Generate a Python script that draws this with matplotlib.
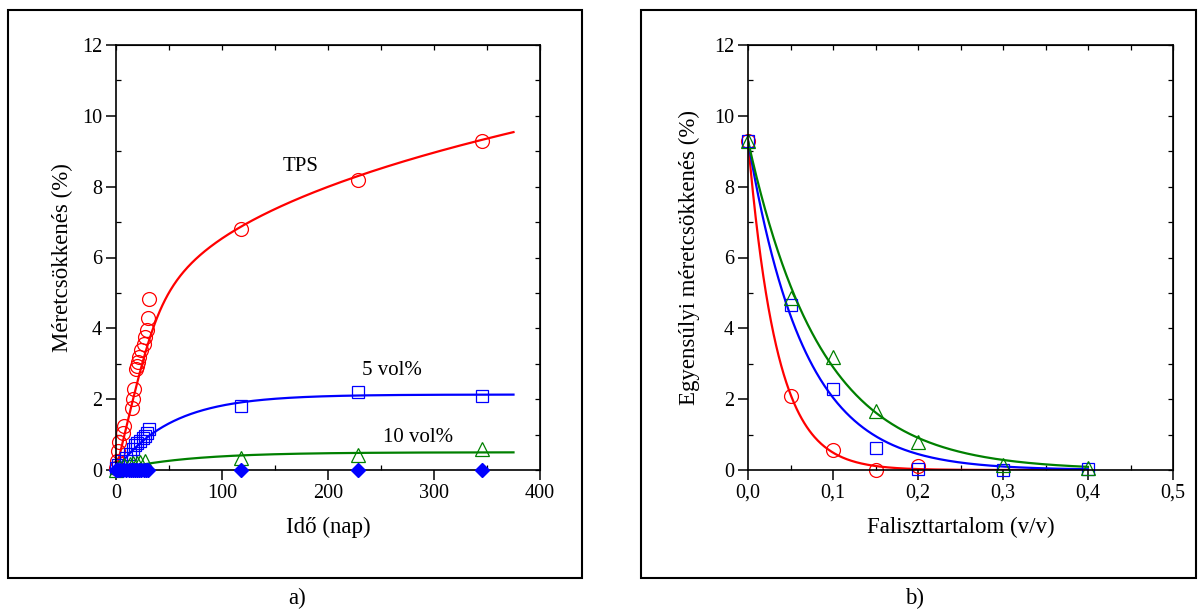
import matplotlib.pyplot as plt
import numpy as np
from matplotlib.patches import Rectangle
from matplotlib.ticker import MultipleLocator

plt.rcParams['font.family'] = ['Liberation Serif', 'DejaVu Serif']

# --- a) dimensional shrinkage vs time ---
tps_x = [0, 1, 2, 3, 7, 8, 15, 16, 17, 19, 20, 21, 22, 24, 26, 27, 29, 30, 31, 118, 228, 345]
tps_y = [0.05, 0.25, 0.55, 0.8, 1.05, 1.25, 1.75, 2.0, 2.3, 2.85, 2.95, 3.05, 3.2, 3.4,
         3.55, 3.75, 3.95, 4.3, 4.83, 6.8, 8.2, 9.3]
v5_x = [0, 2, 5, 9, 13, 16, 18, 20, 23, 25, 27, 29, 31, 118, 228, 345]
v5_y = [0.05, 0.15, 0.25, 0.35, 0.45, 0.6, 0.7, 0.75, 0.82, 0.9, 0.95, 1.05, 1.15, 1.8, 2.2, 2.1]
v10_x = [0, 3, 8, 13, 16, 20, 23, 27, 118, 228, 345]
v10_y = [0.0, 0.08, 0.15, 0.18, 0.2, 0.2, 0.22, 0.25, 0.35, 0.42, 0.58]
v20_x = [0, 2, 4, 7, 9, 12, 14, 16, 18, 20, 22, 24, 26, 28, 30, 118, 228, 345]
v20_y = [0] * len(v20_x)

# fitted curve parameters
tps_k, tps_p, tps_n, tps_m = 0.125, 1.815, 0.28, 5
v5_a, v5_t = 2.13, 52
v10_a, v10_t = 0.5, 68

# --- b) equilibrium shrinkage vs wood flour content ---
wf_x = [0.0, 0.05, 0.1, 0.15, 0.2, 0.3, 0.4]
b_tps = [9.3, 2.1, 0.57, 0.0, 0.12]
b_v5 = [9.3, 4.65, 2.3, 0.63, 0.02, 0.0, 0.03]
b_v10 = [9.3, 4.85, 3.2, 1.67, 0.78, 0.15, 0.05]
b_tau = [0.034, 0.066, 0.086]
b_amp = 9.3
wf_ticks = [0.0, 0.1, 0.2, 0.3, 0.4, 0.5]
wf_labels = ['0,0', '0,1', '0,2', '0,3', '0,4', '0,5']

W, H = 1203, 612
fig = plt.figure(figsize=(W / 100, H / 100), dpi=100)
ax1 = fig.add_axes([116 / W, 142 / H, 424 / W, 425 / H])
ax2 = fig.add_axes([748 / W, 142 / H, 425 / W, 425 / H])


def style(ax, xmaj, xmin, ymaj, ymin):
    ax.xaxis.set_major_locator(MultipleLocator(xmaj))
    ax.xaxis.set_minor_locator(MultipleLocator(xmin))
    ax.yaxis.set_major_locator(MultipleLocator(ymaj))
    ax.yaxis.set_minor_locator(MultipleLocator(ymin))
    ax.tick_params(which='major', direction='out', length=7, width=1.1, labelsize=14.5, pad=3)
    ax.tick_params(which='minor', direction='in', length=3.5, width=0.9)
    for s in ax.spines.values():
        s.set_linewidth(1.2)
    top = ax.secondary_xaxis('top')
    top.xaxis.set_major_locator(MultipleLocator(xmin))
    top.tick_params(direction='in', length=3.5, width=0.9, labeltop=False)
    right = ax.secondary_yaxis('right')
    right.yaxis.set_major_locator(MultipleLocator(ymin))
    right.tick_params(direction='in', length=3.5, width=0.9, labelright=False)


# panel a
t = np.linspace(0.01, 375, 600)
lin = tps_k * t
pw = tps_p * t ** tps_n
tps_fit = (lin ** -tps_m + pw ** -tps_m) ** (-1 / tps_m)
ax1.plot(t, tps_fit, color='#ff0000', lw=1.6)
ax1.plot(t, v5_a * (1 - np.exp(-t / v5_t)), color='#0000ff', lw=1.6)
ax1.plot(t, v10_a * (1 - np.exp(-t / v10_t)), color='#008000', lw=1.6)
mk = dict(ls='none', mfc='none', mew=0.9, clip_on=False)
ax1.plot(tps_x, tps_y, marker='o', ms=10, mec='#ff0000', **mk)
ax1.plot(v5_x, v5_y, marker='s', ms=9, mec='#0000ff', **mk)
ax1.plot(v10_x, v10_y, marker='^', ms=10, mec='#008000', **mk)
ax1.plot(v20_x, v20_y, ls='none', marker='D', ms=7, color='#0000ff', clip_on=False, zorder=5)
ax1.set_xlim(0, 400)
ax1.set_ylim(0, 12)
style(ax1, 100, 50, 2, 1)
ax1.set_xlabel('Idő (nap)', fontsize=16.5, labelpad=10)
ax1.set_ylabel('Méretcsökkenés (%)', fontsize=16.5, labelpad=6)
ax1.text(174, 8.56, 'TPS', fontsize=15, ha='center', va='center')
ax1.text(260, 2.82, '5 vol%', fontsize=15, ha='center', va='center')
ax1.text(285, 0.93, '10 vol%', fontsize=15, ha='center', va='center')

# panel b
xf = np.linspace(0, 0.4, 400)
for tau, c in zip(b_tau, ['#ff0000', '#0000ff', '#008000']):
    ax2.plot(xf, b_amp * np.exp(-xf / tau), color=c, lw=1.6)
ax2.plot(wf_x[:len(b_tps)], b_tps, marker='o', ms=10, mec='#ff0000', **mk)
ax2.plot(wf_x, b_v5, marker='s', ms=9, mec='#0000ff', **mk)
ax2.plot(wf_x, b_v10, marker='^', ms=10, mec='#008000', **mk)
ax2.set_xlim(0, 0.5)
ax2.set_ylim(0, 12)
style(ax2, 0.1, 0.05, 2, 1)
ax2.set_xticks(wf_ticks)
ax2.set_xticklabels(wf_labels)
ax2.set_xlabel('Faliszttartalom (v/v)', fontsize=16.5, labelpad=10)
ax2.set_ylabel('Egyensúlyi méretcsökkenés (%)', fontsize=16.5, labelpad=10)

# frames and captions
fig.add_artist(Rectangle((8 / W, 34 / H), 574 / W, 568 / H, transform=fig.transFigure,
                         fill=False, lw=1.5, ec='black'))
fig.add_artist(Rectangle((641 / W, 34 / H), 555 / W, 568 / H, transform=fig.transFigure,
                         fill=False, lw=1.5, ec='black'))
fig.text(297 / W, 1 - 598 / H, 'a)', fontsize=16.5, ha='center', va='center')
fig.text(915 / W, 1 - 598 / H, 'b)', fontsize=16.5, ha='center', va='center')

fig.savefig('out.png', dpi=100)
